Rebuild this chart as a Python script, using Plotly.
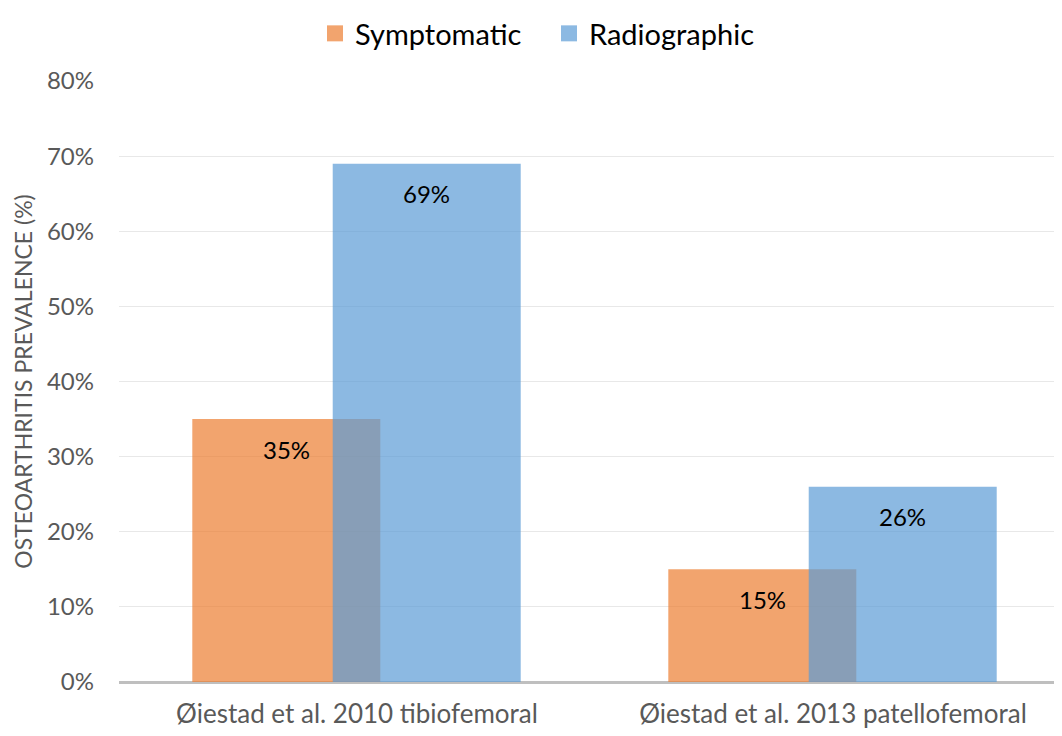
import plotly.graph_objects as go

categories = ["Øiestad et al. 2010 tibiofemoral", "Øiestad et al. 2013 patellofemoral"]
series_names = ["Symptomatic", "Radiographic"]
symptomatic = [0.35, 0.15]
radiographic = [0.69, 0.26]
y_ticks = [0, 0.1, 0.2, 0.3, 0.4, 0.5, 0.6, 0.7, 0.8]

FONT = "Lato"
COL_S = "rgba(237,125,49,0.7)"
COL_R = "rgba(91,155,213,0.7)"
PX_PER_CAT = 476.0
W = 188.0 / PX_PER_CAT
OFF_S = -0.346
OFF_R = -0.051

FIG_W, FIG_H = 1054, 728  # page body has an 8px margin

fig = go.Figure()
fig.add_trace(go.Bar(
    name=series_names[0], x=categories, y=symptomatic,
    offset=OFF_S, width=W, showlegend=False,
    marker=dict(color=COL_S, line=dict(width=0)),
))
fig.add_trace(go.Bar(
    name=series_names[1], x=categories, y=radiographic,
    offset=OFF_R, width=W, showlegend=False,
    marker=dict(color=COL_R, line=dict(width=0)),
))
# legend entries with larger square swatches
for nm, col in zip(series_names, (COL_S, COL_R)):
    fig.add_trace(go.Scatter(
        name=nm, x=[None], y=[None], mode="markers",
        marker=dict(symbol="square", size=18, color=col, line=dict(width=0)),
    ))

for i, c in enumerate(categories):
    for vals, off in ((symptomatic, OFF_S), (radiographic, OFF_R)):
        fig.add_annotation(
            x=i + off + W / 2, y=vals[i], xref="x", yref="y",
            text=f"{round(vals[i]*100)}%", showarrow=False,
            yshift=-30, font=dict(family=FONT, size=24, color="#000000"),
        )

fig.update_layout(
    width=FIG_W, height=FIG_H,
    margin=dict(l=111, r=0, t=73, b=54, autoexpand=False),
    paper_bgcolor="white", plot_bgcolor="white",
    barmode="overlay",
    font=dict(family=FONT, color="#595959"),
    legend=dict(
        orientation="h", xref="container", yref="container",
        x=307 / FIG_W, xanchor="left", y=1, yanchor="top",
        font=dict(family=FONT, size=29, color="#000000"),
        itemsizing="trace", itemwidth=30, tracegroupgap=0,
        entrywidth=189, entrywidthmode="pixels",
    ),
    xaxis=dict(
        type="category", range=[-0.5, -0.5 + 943 / PX_PER_CAT],
        showgrid=False, showline=False, zeroline=False,
        ticks="", ticklabelstandoff=14,
        tickfont=dict(family=FONT, size=26, color="#595959"),
    ),
    yaxis=dict(
        range=[0, 0.8], tickvals=y_ticks, tickformat=".0%",
        showgrid=True, gridcolor="#e8e8e8", gridwidth=1,
        zeroline=True, zerolinecolor="#bfbfbf", zerolinewidth=3,
        ticks="", ticklabelstandoff=24,
        tickfont=dict(family=FONT, size=24, color="#595959"),
        title=dict(text="OSTEOARTHRITIS PREVALENCE (%)", standoff=7,
                   font=dict(family=FONT, size=23, color="#595959")),
    ),
)

fig.write_html("out.html")
